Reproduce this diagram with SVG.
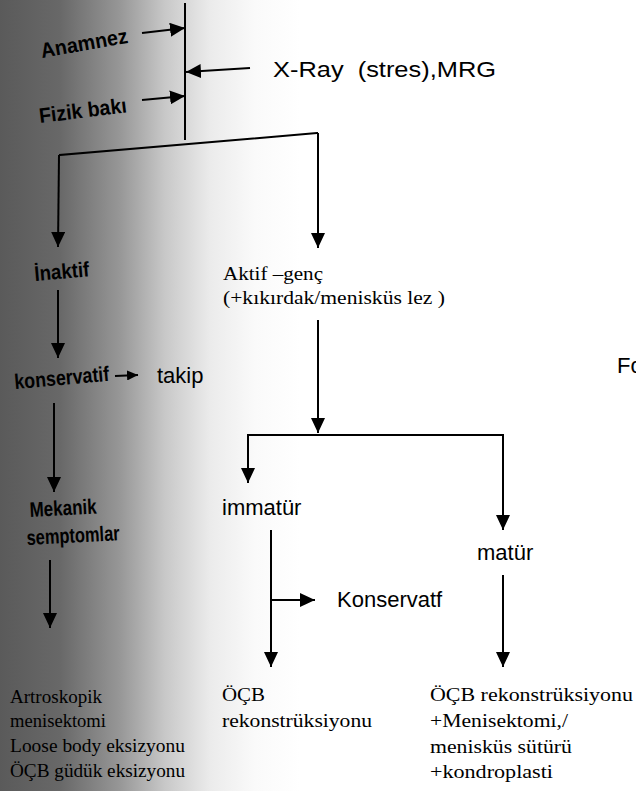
<svg xmlns="http://www.w3.org/2000/svg" width="636" height="791" viewBox="0 0 636 791">
<defs>
<linearGradient id="bg" gradientUnits="userSpaceOnUse" x1="0" y1="0" x2="300" y2="0">
<stop offset="0" stop-color="#5a5a5a"/>
<stop offset="0.2" stop-color="#686868"/>
<stop offset="0.4" stop-color="#979797"/>
<stop offset="0.55" stop-color="#c8c8c8"/>
<stop offset="0.7" stop-color="#ebebeb"/>
<stop offset="0.85" stop-color="#fafafa"/>
<stop offset="1" stop-color="#fff"/>
</linearGradient>
<marker id="ah" markerUnits="userSpaceOnUse" markerWidth="15" markerHeight="14" refX="15" refY="7" orient="auto">
<path d="M0,0 L15,7 L0,14 z" fill="#000"/>
</marker>
<marker id="ahs" markerUnits="userSpaceOnUse" markerWidth="11" markerHeight="10" refX="11" refY="5" orient="auto">
<path d="M0,0 L11,5 L0,10 z" fill="#000"/>
</marker>
<style>
.ln{fill:none;stroke:#000;stroke-width:2}
.ar{fill:none;stroke:#000;stroke-width:2;marker-end:url(#ah)}
.ars{fill:none;stroke:#000;stroke-width:2;marker-end:url(#ahs)}
.bl{font-family:"Liberation Sans",Arial,sans-serif;font-weight:bold;font-size:21px;fill:#000}
.sa{font-family:"Liberation Sans",Arial,sans-serif;font-size:22px;fill:#000}
.se{font-family:"Liberation Serif","Times New Roman",serif;font-size:18px;fill:#000}
</style>
</defs>
<rect x="0" y="0" width="636" height="791" fill="#fff"/>
<rect x="0" y="0" width="300" height="791" fill="url(#bg)"/>

<g id="connectors">
<line class="ln" x1="185" y1="3" x2="185" y2="140"/>
<line class="ar" x1="142" y1="33" x2="185" y2="28"/>
<line class="ar" x1="250" y1="68" x2="186" y2="72"/>
<line class="ar" x1="142" y1="100" x2="185" y2="96"/>
<polyline class="ln" points="60,156 60,155 317,133 318,133"/>
<line class="ar" x1="59" y1="155" x2="58" y2="247"/>
<line class="ar" x1="318" y1="133" x2="318" y2="248"/>
<line class="ar" x1="58" y1="290" x2="58" y2="358"/>
<line class="ars" x1="115" y1="376" x2="138" y2="375"/>
<line class="ar" x1="54" y1="403" x2="54" y2="492"/>
<line class="ar" x1="50" y1="560" x2="50" y2="628"/>
<line class="ar" x1="318" y1="320" x2="318" y2="433"/>
<polyline class="ln" points="248,436 248,435 503,435 503,436"/>
<line class="ar" x1="248" y1="435" x2="248" y2="483"/>
<line class="ar" x1="503" y1="435" x2="503" y2="530"/>
<line class="ar" x1="271" y1="530" x2="271" y2="667"/>
<line class="ar" x1="271" y1="600" x2="315" y2="600"/>
<line class="ar" x1="503" y1="575" x2="503" y2="667"/>
</g>

<g id="anamnez"><text class="bl" x="42" y="58" textLength="88" lengthAdjust="spacingAndGlyphs" transform="rotate(-10 42 58)">Anamnez</text></g>
<g id="xray"><text class="sa" x="273" y="77" textLength="223" lengthAdjust="spacingAndGlyphs" xml:space="preserve">X-Ray  (stres),MRG</text></g>
<g id="fizik"><text class="bl" x="40" y="123" textLength="88" lengthAdjust="spacingAndGlyphs" transform="rotate(-7 40 123)">Fizik bakı</text></g>
<g id="inaktif"><text class="bl" x="35" y="281" textLength="55" lengthAdjust="spacingAndGlyphs" transform="rotate(-5 35 281)">İnaktif</text></g>
<g id="konservatif"><text class="bl" x="15" y="389" textLength="95" lengthAdjust="spacingAndGlyphs" transform="rotate(-5 15 389)">konservatif</text></g>
<g id="takip"><text class="sa" x="157" y="383">takip</text></g>
<g id="mekanik"><text class="bl" x="30" y="517" font-size="18" textLength="67" lengthAdjust="spacingAndGlyphs" transform="rotate(-3 30 517)">Mekanik</text><text class="bl" x="27" y="545" font-size="18" textLength="93" lengthAdjust="spacingAndGlyphs" transform="rotate(-3 27 545)">semptomlar</text></g>
<g id="artroskopik">
<text class="se" x="10" y="703" textLength="92" lengthAdjust="spacingAndGlyphs">Artroskopik</text>
<text class="se" x="10" y="727" textLength="96" lengthAdjust="spacingAndGlyphs">menisektomi</text>
<text class="se" x="10" y="752" textLength="175" lengthAdjust="spacingAndGlyphs">Loose body eksizyonu</text>
<text class="se" x="10" y="777" textLength="175" lengthAdjust="spacingAndGlyphs">ÖÇB güdük eksizyonu</text>
</g>
<g id="aktif">
<text class="se" x="223" y="280" textLength="100" lengthAdjust="spacingAndGlyphs">Aktif –genç</text>
<text class="se" x="223" y="304" textLength="222" lengthAdjust="spacingAndGlyphs">(+kıkırdak/menisküs lez )</text>
</g>
<g id="fo"><text class="sa" x="617" y="373" font-size="23">Fo</text></g>
<g id="immatur"><text class="sa" x="222" y="515">immatür</text></g>
<g id="matur"><text class="sa" x="477" y="560">matür</text></g>
<g id="konservatf"><text class="sa" x="337" y="607">Konservatf</text></g>
<g id="ocb1">
<text class="se" x="222" y="701" textLength="43" lengthAdjust="spacingAndGlyphs">ÖÇB</text>
<text class="se" x="222" y="727" textLength="150" lengthAdjust="spacingAndGlyphs">rekonstrüksiyonu</text>
</g>
<g id="ocb2">
<text class="se" x="430" y="701" textLength="203" lengthAdjust="spacingAndGlyphs">ÖÇB rekonstrüksiyonu</text>
<text class="se" x="430" y="727" textLength="138" lengthAdjust="spacingAndGlyphs">+Menisektomi,/</text>
<text class="se" x="430" y="753" textLength="142" lengthAdjust="spacingAndGlyphs">menisküs sütürü</text>
<text class="se" x="430" y="778" textLength="123" lengthAdjust="spacingAndGlyphs">+kondroplasti</text>
</g>
</svg>
